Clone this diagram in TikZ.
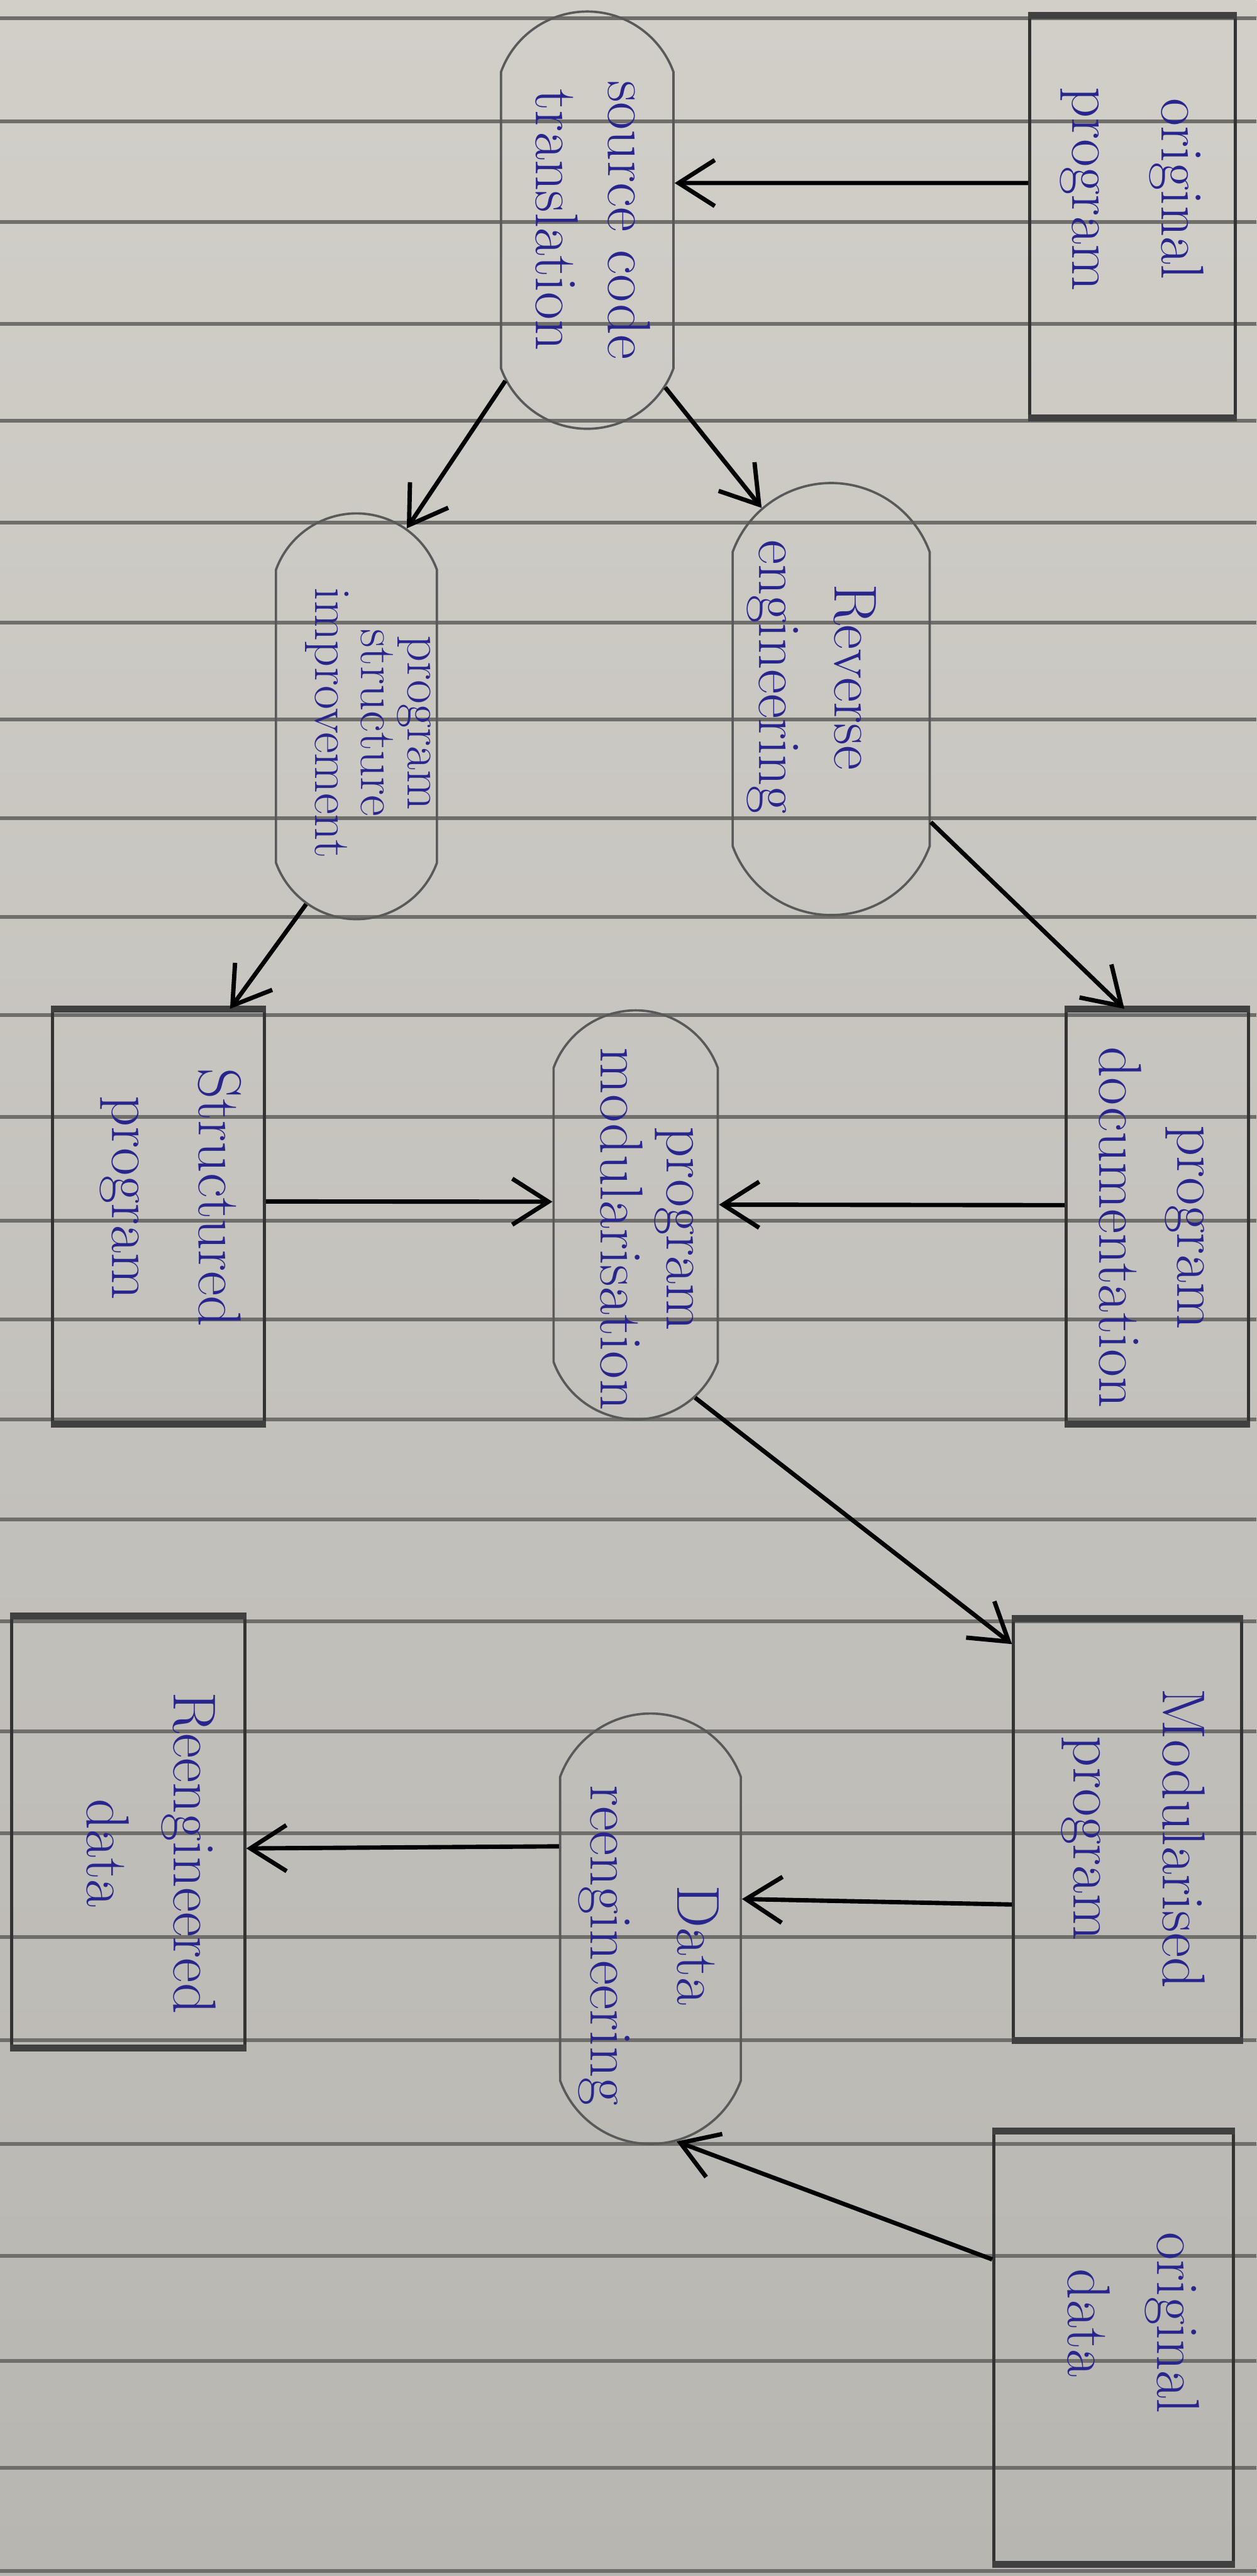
\documentclass[tikz,border=0pt]{standalone}
\usetikzlibrary{shapes.misc,arrows.meta}
\definecolor{ink}{RGB}{40,38,140}
\definecolor{paper top}{RGB}{210,207,201}
\definecolor{paper bottom}{RGB}{184,182,177}
\definecolor{rule line}{RGB}{112,110,106}
\begin{document}
\begin{tikzpicture}[x=0.02cm,y=-0.02cm,>={Straight Barb[length=0.44cm,width=0.56cm]}]
% --- Layout & Styles --------------------------------------
\tikzstyle{data box}=[rectangle,draw=black!80,line width=1.1pt,rotate=-90,inner sep=0];
\tikzstyle{process box}=[rounded rectangle,rounded rectangle arc length=140,draw=black!65,line width=0.8pt,rotate=-90,inner sep=0];
\tikzstyle{hand text}=[rotate=-90,align=center,text=ink,inner sep=0,font=\fontsize{21}{30}\selectfont];
\tikzstyle{flow}=[->,line width=1.5pt];
% --- Paper ------------------------------------------------
\useasboundingbox (0,0) rectangle (765,1568);
\shade[top color=paper top,bottom color=paper bottom] (0,0) rectangle (765,1568);
\foreach \y in {11,74,135,197,256,318,379,438,498,558,618,680,743,803,864,925,987,1054,1116,1179,1242,1305,1373,1437,1502,1565}
  \draw[rule line,line width=1.3pt] (0,\y) -- (765,\y);
% --- Boxes ------------------------------------------------
\node(op)[data box,minimum width=4.86cm,minimum height=2.5cm] at (689.5,132) {};
\node(sct)[process box,minimum width=5.08cm,minimum height=2.1cm] at (357.5,134) {};
\node(re)[process box,minimum width=5.26cm,minimum height=2.4cm] at (506,425.5) {};
\node(psi)[process box,minimum width=4.94cm,minimum height=1.96cm] at (217,436) {};
\node(pd)[data box,minimum width=5.02cm,minimum height=2.22cm] at (704.5,740.5) {};
\node(pm)[process box,minimum width=4.98cm,minimum height=2cm] at (387,739.5) {};
\node(sp)[data box,minimum width=5.02cm,minimum height=2.58cm] at (96.5,740.5) {};
\node(mp)[data box,minimum width=5.1cm,minimum height=2.78cm] at (686.5,1113.5) {};
\node(dr)[process box,minimum width=5.24cm,minimum height=2.2cm] at (396,1174) {};
\node(rd)[data box,minimum width=5.22cm,minimum height=2.84cm] at (78,1115) {};
\node(od)[data box,minimum width=5.24cm,minimum height=2.92cm] at (678,1429) {};
% top and bottom edges gone over twice
\foreach \b in {op,pd,sp,mp,rd,od}
  \draw[black!75,line width=2.4pt] (\b.south west) -- (\b.north west) (\b.south east) -- (\b.north east);
% --- Node labels ------------------------------------------
\node(op-l)[hand text,font=\fontsize{21}{31}\selectfont] at (689,115) {original\\program};
\node(sct-l)[hand text,font=\fontsize{21}{25}\selectfont] at (361,134) {source code\\translation};
\node(re-l)[hand text,font=\fontsize{21}{26}\selectfont] at (494,412) {Reverse\\engineering};
\node(psi-l)[hand text,font=\fontsize{18}{16}\selectfont] at (224,440) {program\\structure\\improvement};
\node(pd-l)[hand text,font=\fontsize{21}{27}\selectfont] at (701,747) {program\\documentation};
\node(pm-l)[hand text,font=\fontsize{21}{23}\selectfont] at (394,748) {program\\modularisation};
\node(sp-l)[hand text] at (104,729) {Structured\\program};
\node(mp-l)[hand text,font=\fontsize{21}{31}\selectfont] at (690,1119) {Modularised\\program};
\node(dr-l)[hand text] at (395,1184) {Data\\reengineering};
\node(rd-l)[hand text] at (92,1128) {Reengineered\\data};
\node(od-l)[hand text,font=\fontsize{21}{31}\selectfont] at (690,1414) {original\\data};
% --- Edges ------------------------------------------------
\draw[flow] (op.252) -- (sct.113);
\draw[flow] (sct.25) -- (re.200);
\draw[flow] (sct.-27) -- (psi.165);
\draw[flow] (re.39) -- (pd.189);
\draw[flow] (psi.-15) -- (sp.161);
\draw[flow] (pd.263) -- (pm.97);
\draw[flow] (sp.98) -- (pm.261);
\draw[flow] (pm.18) -- (mp.212);
\draw[flow] (mp.-57) -- (dr.108);
\draw[flow] (dr.228) -- (rd.82);
\draw[flow] (od.234) -- (dr.7);
\end{tikzpicture}
\end{document}
